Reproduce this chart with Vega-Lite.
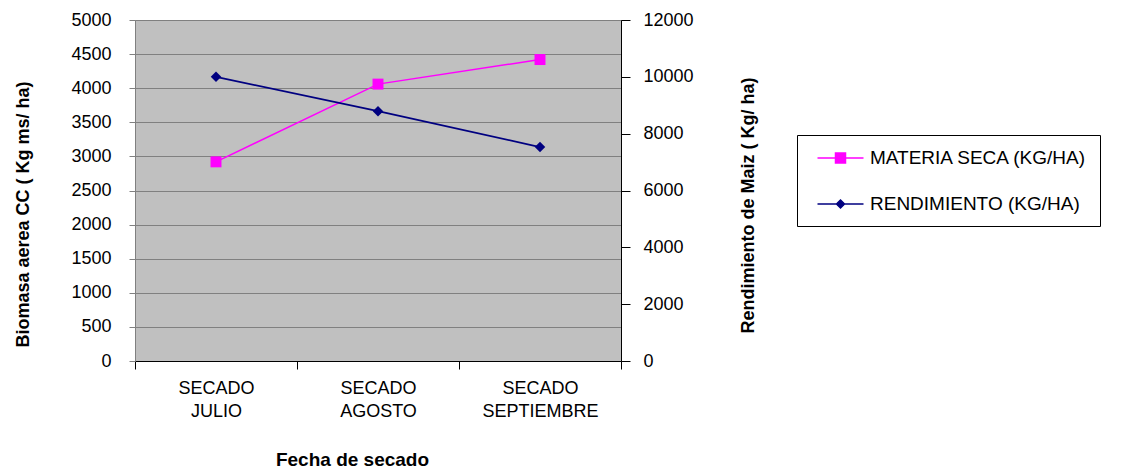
{
  "$schema": "https://vega.github.io/schema/vega-lite/v6.json",
  "width": 486,
  "height": 341,
  "autosize": {"type": "none"},
  "padding": {"left": 135, "top": 20, "right": 504, "bottom": 108},
  "background": "white",
  "config": {
    "font": "Liberation Sans",
    "view": {"fill": "#c0c0c0", "stroke": "#808080", "strokeWidth": 1}
  },
  "data": {
    "values": [
      {"fecha": "SECADO JULIO", "materia": 2920, "rendimiento": 10000},
      {"fecha": "SECADO AGOSTO", "materia": 4060, "rendimiento": 8790},
      {"fecha": "SECADO SEPTIEMBRE", "materia": 4420, "rendimiento": 7530}
    ]
  },
  "encoding": {
    "x": {
      "field": "fecha",
      "type": "nominal",
      "sort": ["SECADO JULIO", "SECADO AGOSTO", "SECADO SEPTIEMBRE"],
      "scale": {"type": "band", "paddingInner": 0, "paddingOuter": 0},
      "axis": {
        "orient": "bottom",
        "title": "Fecha de secado",
        "labelExpr": "split(datum.label, ' ')",
        "labelAngle": 0,
        "labelFontSize": 18,
        "labelLineHeight": 23,
        "labelPadding": 10,
        "labelColor": "black",
        "tickBand": "extent",
        "tickSize": 8,
        "tickColor": "black",
        "domainColor": "black",
        "grid": false,
        "titleFontSize": 19,
        "titleFontWeight": "bold",
        "titleColor": "black",
        "titleX": 217,
        "titleY": 104,
        "titleBaseline": "alphabetic",
        "titleAlign": "center"
      }
    }
  },
  "layer": [
    {
      "encoding": {
        "y": {
          "field": "materia",
          "type": "quantitative",
          "scale": {"domain": [0, 5000]},
          "axis": {
            "orient": "left",
            "values": [0, 500, 1000, 1500, 2000, 2500, 3000, 3500, 4000, 4500, 5000],
            "format": "d",
            "grid": true,
            "gridColor": "#808080",
            "gridWidth": 1,
            "domainColor": "#808080",
            "tickColor": "#808080",
            "tickSize": 6,
            "labelPadding": 18,
            "labelFontSize": 18,
            "labelColor": "black",
            "title": "Biomasa aerea CC ( Kg ms/ ha)",
            "titleFontSize": 18,
            "titleFontWeight": "bold",
            "titleColor": "black",
            "titleX": -107,
            "titleY": 194,
            "titleAngle": -90,
            "titleAlign": "center",
            "titleBaseline": "alphabetic"
          }
        }
      },
      "layer": [
        {"mark": {"type": "line", "color": "#ff00ff", "strokeWidth": 1.5}},
        {"mark": {"type": "point", "shape": "square", "filled": true, "color": "#ff00ff", "size": 120, "opacity": 1}}
      ]
    },
    {
      "encoding": {
        "y": {
          "field": "rendimiento",
          "type": "quantitative",
          "scale": {"domain": [0, 12000]},
          "axis": {
            "orient": "right",
            "values": [0, 2000, 4000, 6000, 8000, 10000, 12000],
            "format": "d",
            "grid": false,
            "domainColor": "black",
            "tickColor": "black",
            "tickSize": 9,
            "labelPadding": 13,
            "labelFontSize": 18,
            "labelColor": "black",
            "title": "Rendimiento de Maiz ( Kg/ ha)",
            "titleFontSize": 18,
            "titleFontWeight": "bold",
            "titleColor": "black",
            "titleX": 132,
            "titleY": 185,
            "titleAngle": -90,
            "titleAlign": "center",
            "titleBaseline": "alphabetic"
          }
        }
      },
      "layer": [
        {"mark": {"type": "line", "color": "#000080", "strokeWidth": 1.8}},
        {"mark": {"type": "point", "shape": "diamond", "filled": true, "color": "#000080", "size": 110, "opacity": 1}}
      ]
    },
    {
      "data": {"values": []},
      "mark": {"type": "point", "filled": true, "opacity": 1, "strokeWidth": 1.5},
      "encoding": {
        "fill": {
          "field": "serie",
          "type": "nominal",
          "sort": null,
          "scale": {
            "domain": ["MATERIA SECA (KG/HA)", "RENDIMIENTO (KG/HA)"],
            "range": ["#ff00ff", "#000080"]
          },
          "legend": {
            "orient": "none",
            "legendX": 662,
            "legendY": 115,
            "title": null,
            "padding": 12,
            "strokeColor": "black",
            "fillColor": "white",
            "symbolSize": 400,
            "symbolOffset": 20.5,
            "labelOffset": 18.5,
            "rowPadding": 25,
            "labelFontSize": 19,
            "labelColor": "black",
            "labelLimit": 400,
            "symbolStrokeWidth": 1.5
          }
        },
        "stroke": {
          "field": "serie",
          "type": "nominal",
          "sort": null,
          "scale": {
            "domain": ["MATERIA SECA (KG/HA)", "RENDIMIENTO (KG/HA)"],
            "range": ["#ff00ff", "#000080"]
          },
          "legend": {
            "orient": "none",
            "legendX": 662,
            "legendY": 115,
            "title": null
          }
        },
        "shape": {
          "field": "serie",
          "type": "nominal",
          "sort": null,
          "scale": {
            "domain": ["MATERIA SECA (KG/HA)", "RENDIMIENTO (KG/HA)"],
            "range": [
              "M-2.3,0H2.3M-0.5,-0.5H0.5V0.5H-0.5Z",
              "M-2.3,0H2.3M0,-0.4L0.4,0L0,0.4L-0.4,0Z"
            ]
          },
          "legend": {
            "orient": "none",
            "legendX": 662,
            "legendY": 115,
            "title": null
          }
        }
      }
    }
  ],
  "resolve": {"scale": {"y": "independent"}}
}
